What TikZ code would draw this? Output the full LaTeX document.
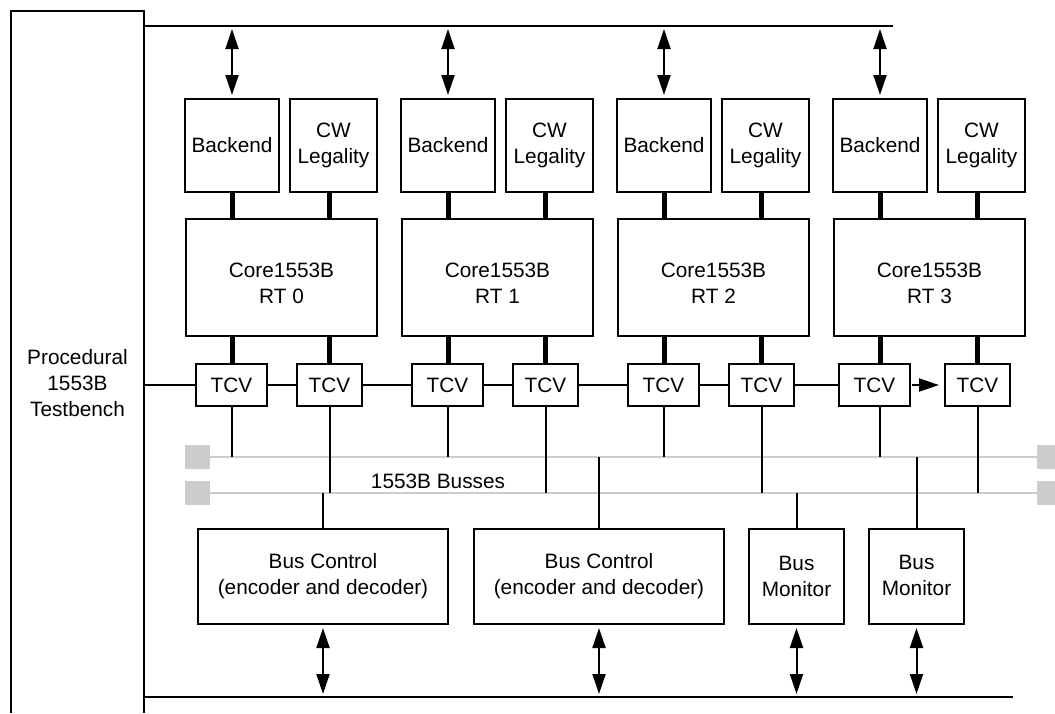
\documentclass[tikz,border=0pt]{standalone}
\usepackage{fontspec}
\setmainfont{Liberation Sans}
\usetikzlibrary{arrows.meta}
\definecolor{busgray}{HTML}{CCCCCC}
\begin{document}
\begin{tikzpicture}[x=1pt,y=-1pt,
  box/.style={draw, line width=2pt, inner sep=0pt, align=center, font=\fontsize{20.8}{26}\selectfont},
  txt/.style={inner sep=0pt, align=center, font=\fontsize{20.8}{26}\selectfont},
  thinl/.style={line width=2pt},
  thickc/.style={line width=5pt},
  bus/.style={draw=busgray, line width=2.5pt},
  sq/.style={fill=busgray},
  dbl/.style={line width=2pt, {Triangle[length=20pt,width=13pt]}-{Triangle[length=20pt,width=13pt]}, shorten <=3pt, shorten >=3pt},
  single/.style={line width=2pt, -{Triangle[length=20pt,width=13pt]}, shorten >=5pt, shorten <=1pt},
]
\useasboundingbox (0,0) rectangle (1055,713);

% testbench
\draw[thinl] (11,713) -- (11,11) -- (144,11) -- (144,713);
\node[txt] (tbtext) at (77.5,383) {Procedural\\1553B\\Testbench};
\coordinate (topL) at (144,26);
\coordinate (topR) at (893,26);
\coordinate (botL) at (144,697);
\coordinate (botR) at (1013,697);
\coordinate (tbr) at (144,385);
\draw[thinl] (topL) -- (topR);
\draw[thinl] (botL) -- (botR);

% busses
\coordinate (busA) at (210,457);
\coordinate (busAe) at (1037,457);
\coordinate (busB) at (210,493);
\coordinate (busBe) at (1037,493);
\fill[sq] (185,445) rectangle (210,469);
\fill[sq] (185,481) rectangle (210,505);
\fill[sq] (1037,445) rectangle (1062,469);
\fill[sq] (1037,481) rectangle (1062,505);
\draw[bus] (busA) -- (busAe);
\draw[bus] (busB) -- (busBe);
\node[txt, anchor=base] (blabel) at (438,488) {1553B Busses};

% RT groups
\foreach \g/\tax in {0/231.5,1/447.5,2/663.5,3/874.5} {
  \pgfmathsetmacro{\d}{216*\g}
  \node[box, minimum width=94pt, minimum height=93pt] (be\g) at ({232+\d},145.5) {Backend};
  \node[box, minimum width=87pt, minimum height=93pt] (cw\g) at ({333.5+\d},145.5) {CW\\Legality};
  \node[box, minimum width=191pt, minimum height=117pt] (core\g) at ({281.5+\d},277.5) {};
  \node[txt] (ct\g) at ({281.5+\d},283) {Core1553B\\RT \g};
  \node[box, minimum width=71pt, minimum height=42pt] (ta\g) at (\tax,385) {TCV};
  \node[box, minimum width=65pt, minimum height=42pt] (tb\g) at ({329.5+\d},385) {TCV};
  \draw[thickc] (be\g.south) -- (be\g.south |- core\g.north);
  \draw[thickc] (tb\g.north |- cw\g.south) -- (tb\g.north |- core\g.north);
  \draw[thickc] (be\g.south |- core\g.south) -- (be\g.south |- ta\g.north);
  \draw[thickc] (tb\g.north |- core\g.south) -- (tb\g.north);
  \draw[thinl] (be\g.south |- ta\g.south) -- (be\g.south |- busA);
  \draw[thinl] (tb\g.south) -- (tb\g.south |- busB);
  \draw[dbl] (be\g.north |- topL) -- (be\g.north);
}

% TCV chain
\draw[thinl] (tbr) -- (ta0.west);
\draw[thinl] (ta0.east) -- (tb0.west);
\draw[thinl] (tb0.east) -- (ta1.west);
\draw[thinl] (ta1.east) -- (tb1.west);
\draw[thinl] (tb1.east) -- (ta2.west);
\draw[thinl] (ta2.east) -- (tb2.west);
\draw[thinl] (tb2.east) -- (ta3.west);
\draw[single] (ta3.east) -- (tb3.west);

% bottom boxes
\node[box, minimum width=250pt, minimum height=95pt] (bc1) at (323,576.5) {Bus Control\\(encoder and decoder)};
\node[box, minimum width=250pt, minimum height=95pt] (bc2) at (599,576.5) {Bus Control\\(encoder and decoder)};
\node[box, minimum width=95pt, minimum height=95pt] (bm1) at (796.5,576.5) {Bus\\Monitor};
\node[box, minimum width=95pt, minimum height=95pt] (bm2) at (916.5,576.5) {};
\node[txt] (bm2t) at (916.5,575) {Bus\\Monitor};
\draw[thinl] (bc1.north |- busB) -- (bc1.north);
\draw[thinl] (bc2.north |- busA) -- (bc2.north);
\draw[thinl] (bm1.north |- busB) -- (bm1.north);
\draw[thinl] (bm2.north |- busA) -- (bm2.north);
\draw[dbl] (bc1.south) -- (bc1.south |- botL);
\draw[dbl] (bc2.south) -- (bc2.south |- botL);
\draw[dbl] (bm1.south) -- (bm1.south |- botL);
\draw[dbl] (bm2.south) -- (bm2.south |- botL);
\end{tikzpicture}
\end{document}
